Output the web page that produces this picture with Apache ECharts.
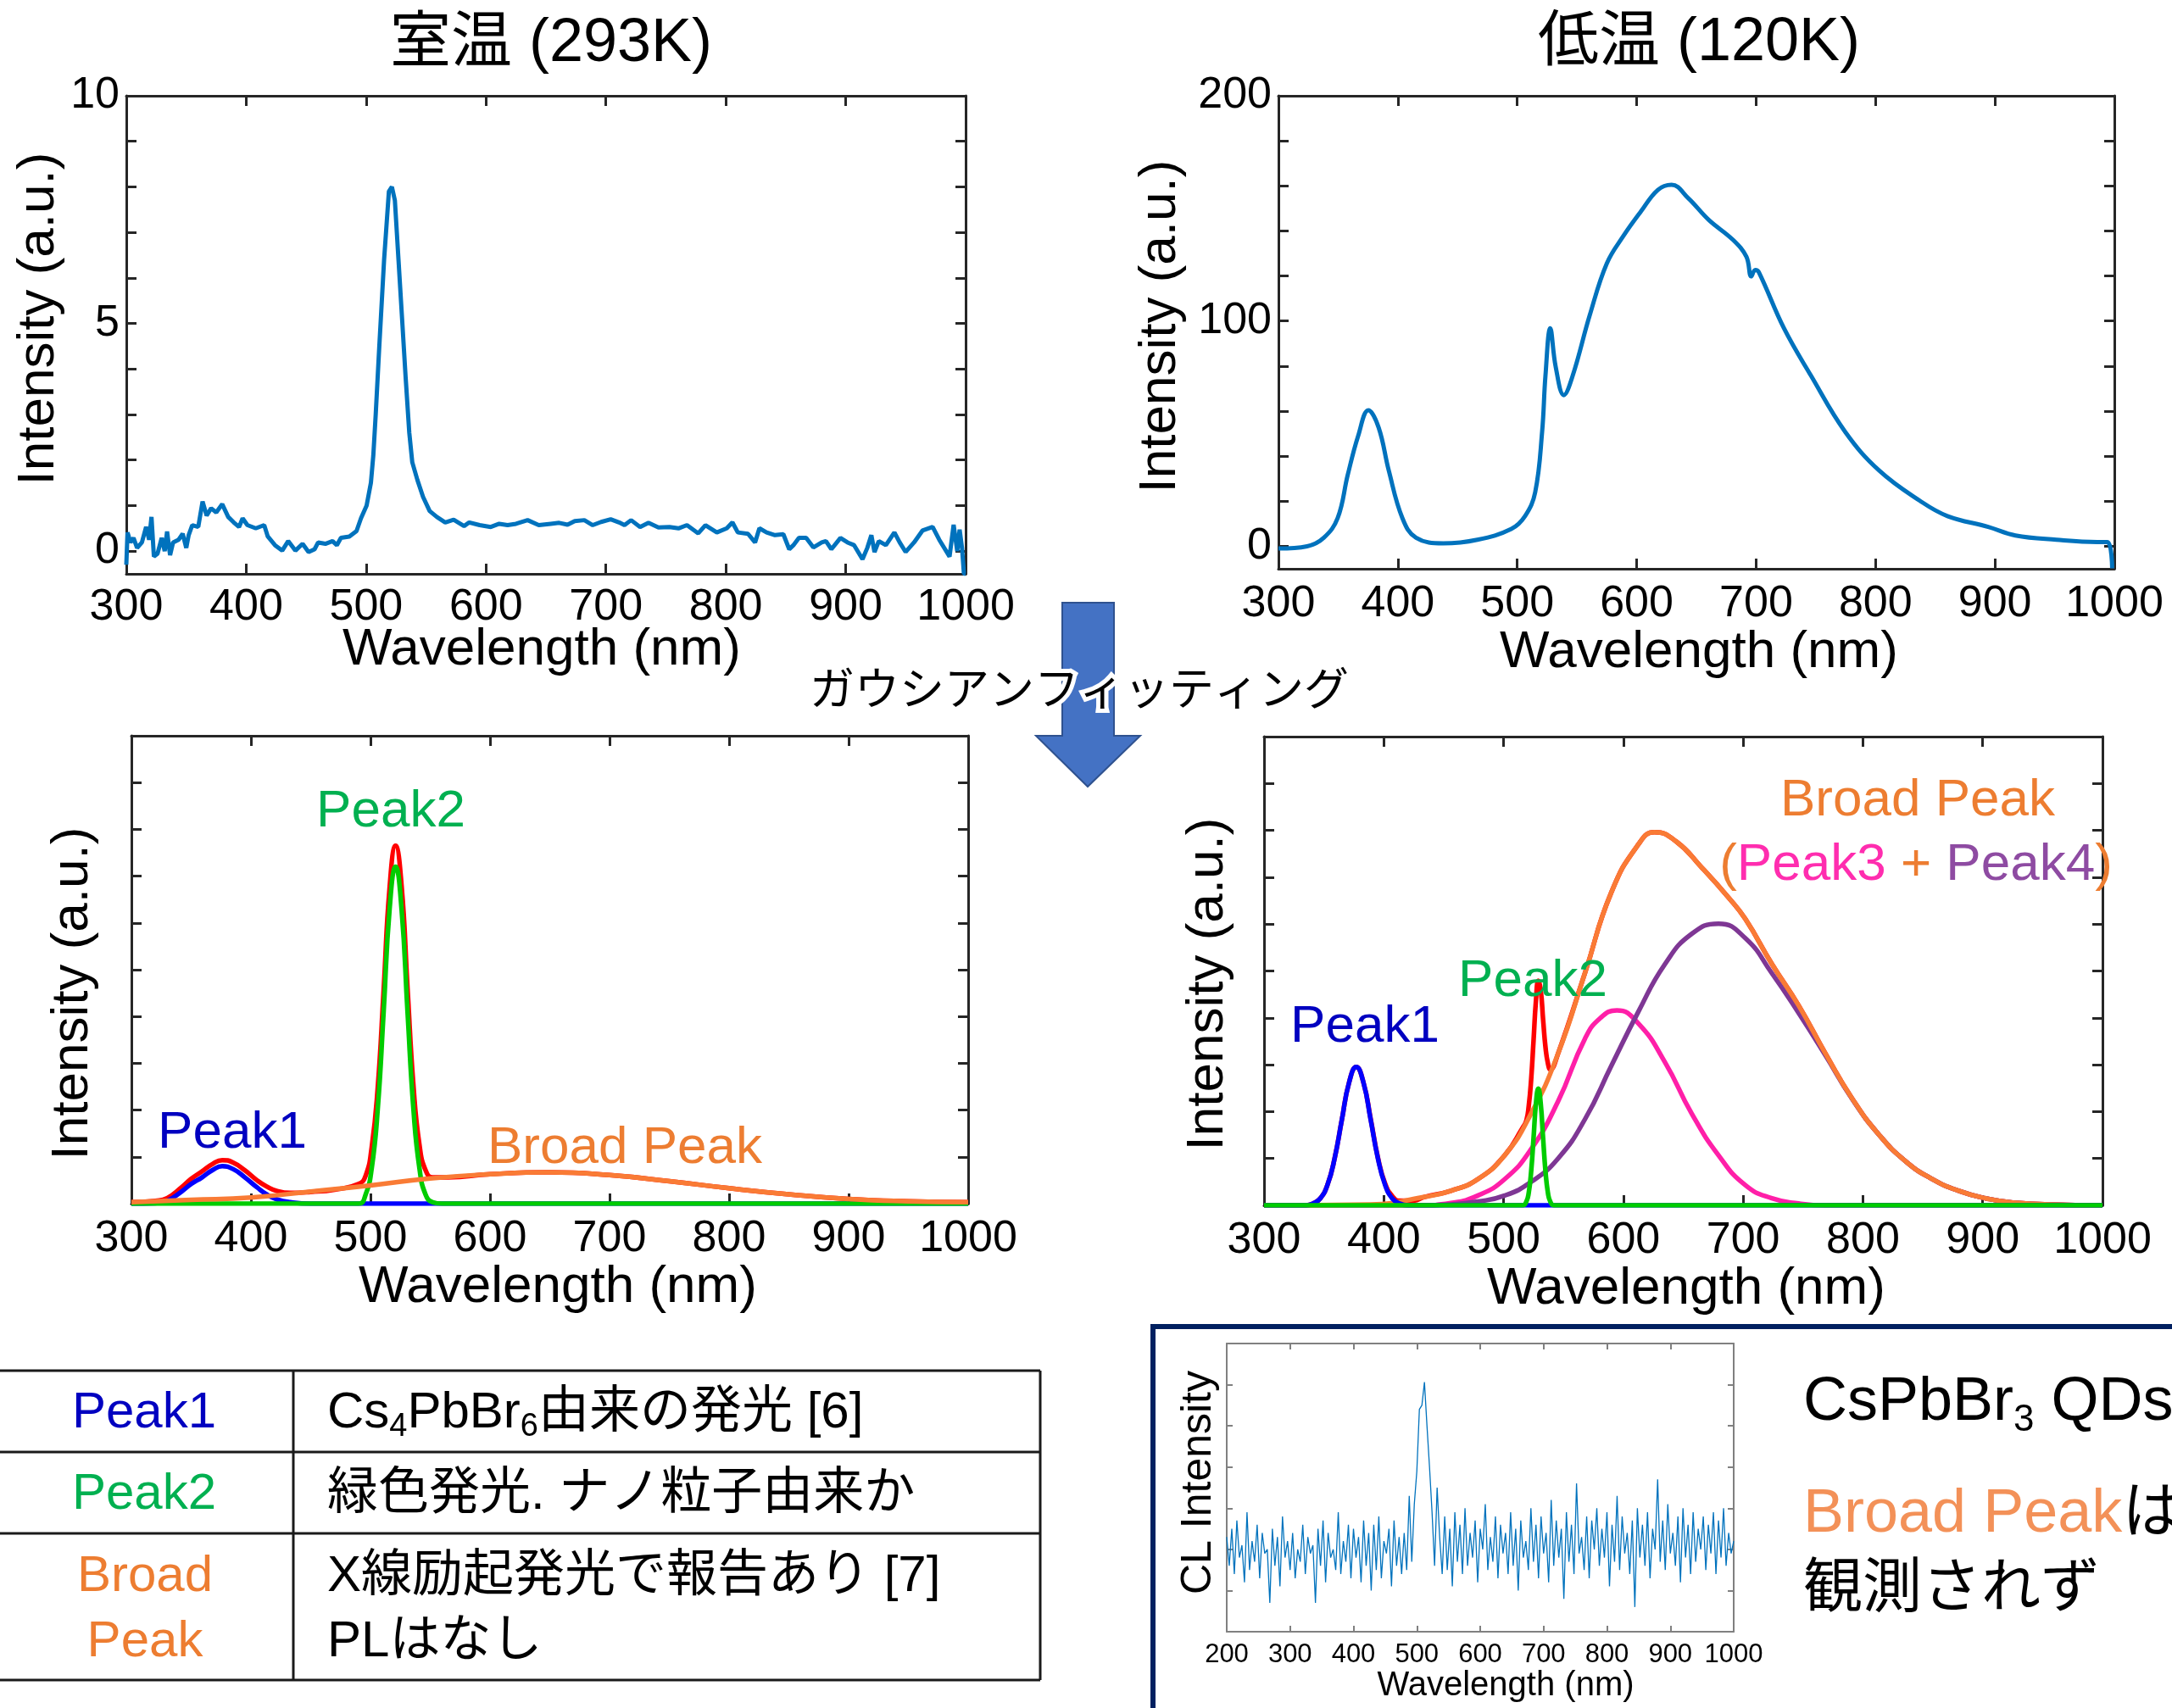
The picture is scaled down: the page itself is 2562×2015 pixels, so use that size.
<!DOCTYPE html>
<html>
<head>
<meta charset="utf-8">
<script src="https://cdn.jsdelivr.net/npm/echarts@6/dist/echarts.min.js"></script>
<style>
  html, body { margin: 0; padding: 0; background: #fff; }
  #main { width: 2562px; height: 2015px; }
</style>
</head>
<body>
<div id="main"></div>
<script>
/* ---------- data (wavelength nm, intensity) ---------- */

// 室温 PL spectrum
var roomTempSpectrum = [[300,-0.3],[301,0.41],[303.5,0.19],[306,0.29],[309,0.07],[313,0.19],[316.5,0.53],[319,0.25],[321,0.75],[323,-0.12],[326,-0.06],[329.5,0.29],[332,0],[334,0.43],[336.5,-0.09],[339,0.19],[343.6,0.25],[347,0.38],[350,0.07],[352,0.35],[355,0.57],[360,0.53],[363.6,1.09],[367,0.78],[370.7,0.94],[375,0.85],[380,1.03],[385,0.75],[389.6,0.63],[394,0.53],[397,0.72],[401,0.57],[408,0.5],[415,0.57],[418,0.32],[424,0.13],[430,0.01],[435,0.22],[441,0.01],[447,0.16],[452,-0.02],[457,0.04],[460,0.19],[466,0.16],[472,0.22],[475.6,0.13],[479,0.29],[486,0.32],[492,0.44],[495.7,0.72],[500.4,1.0],[504,1.5],[506,2.1],[508,3.0],[511,4.5],[515,6.4],[519,7.9],[521.5,8.0],[524,7.7],[527,6.4],[530,5.1],[533,3.8],[536,2.6],[538.5,1.95],[542.8,1.56],[547.5,1.19],[553,0.88],[559,0.75],[566,0.63],[573,0.69],[581.7,0.55],[586,0.63],[594.7,0.57],[604,0.53],[611,0.6],[618,0.57],[625,0.6],[634.7,0.68],[644,0.57],[654,0.6],[661,0.62],[668,0.58],[674,0.66],[682,0.68],[689,0.57],[696,0.64],[704,0.7],[711,0.63],[715.5,0.57],[721,0.68],[728.5,0.53],[735.5,0.62],[743.8,0.52],[753,0.53],[760.5,0.5],[767.6,0.57],[777,0.39],[783,0.57],[792.5,0.41],[800.8,0.5],[805.5,0.63],[810,0.41],[818.5,0.38],[824.4,0.19],[828,0.5],[834,0.41],[841,0.35],[848,0.37],[852.9,0.04],[856.4,0.13],[861,0.29],[867,0.29],[873,0.08],[880,0.19],[883.5,0.22],[888,0.04],[895.6,0.29],[901.5,0.19],[907,0.13],[914,-0.18],[918,0.07],[921.4,0.35],[924,-0.02],[927.6,0.22],[933.5,0.13],[940.6,0.41],[945,0.19],[950,-0.02],[957,0.19],[964,0.45],[972.5,0.53],[978,0.25],[986.6,-0.12],[990,0.58],[993,0],[995,0.47],[997,0.07],[998.6,-0.5],[1000,-0.5]];

// 低温 PL spectrum
var lowTempSpectrum = [[300,-1],[324,0],[338,3.8],[349.6,12.5],[358,31.6],[366.7,48.9],[375.3,60.4],[383.9,52.7],[392.4,33.6],[403.8,12.5],[415.2,3.8],[438,1.3],[466.6,2.9],[495,7.7],[506.5,13.4],[515,24],[520.8,50.8],[523.6,75.7],[527.6,96.8],[532.2,79.6],[539,67.1],[546.4,75.7],[560.7,102.6],[575,125.6],[589.2,138],[603.5,148.6],[617.7,158.2],[629.2,160.5],[643.4,154.4],[660.5,144.8],[680.5,136.1],[691.9,128.5],[695.9,119.8],[699.3,122.7],[702.2,121.8],[723.3,96.8],[746,75.7],[774.6,50.8],[803.1,33.6],[837.4,20.1],[860.2,13.4],[894.4,8.6],[917.2,4.8],[951.5,2.9],[985.7,1.9],[994.2,1.9],[998.2,-9.8]];

// room temperature gaussian fit
var roomFitTotal = [[300,0.03],[320,0.06],[330,0.12],[342,0.35],[350,0.53],[359,0.69],[368,0.85],[376,0.93],[385,0.88],[395,0.71],[405,0.5],[413,0.37],[422,0.27],[433,0.23],[450,0.25],[470,0.3],[490,0.42],[496,0.6],[501,1.2],[506,2.45],[511,4.55],[516,6.75],[521,7.65],[526,6.8],[531,4.6],[536,2.5],[541,1.25],[546,0.72],[552,0.56],[565,0.56],[600,0.63],[650,0.67],[700,0.61],[750,0.48],[800,0.33],[850,0.2],[900,0.1],[950,0.05],[1000,0.03]];
var roomFitPeak1 = [[300,0],[320,0.01],[330,0.06],[342,0.26],[350,0.42],[359,0.56],[368,0.72],[376,0.8],[385,0.74],[395,0.56],[405,0.35],[413,0.2],[422,0.09],[433,0.03],[450,0],[1000,0]];
var roomFitPeak2 = [[300,0],[490,0],[496,0.2],[501,0.75],[506,2.0],[511,4.1],[516,6.3],[521,7.2],[526,6.3],[531,4.1],[536,2.0],[541,0.75],[546,0.2],[552,0.03],[560,0],[1000,0]];
var roomFitBroad = [[300,0.03],[350,0.08],[400,0.13],[450,0.26],[500,0.39],[550,0.54],[600,0.63],[650,0.67],[700,0.61],[750,0.48],[800,0.33],[850,0.2],[900,0.1],[950,0.05],[1000,0.03]];

// low temperature gaussian fit
var lowFitTotal = [[300,0],[335,0],[341,0.04],[347,0.15],[353,0.44],[359,1.01],[365,1.83],[371,2.62],[377,2.95],[383,2.62],[389,1.85],[395,1.03],[401,0.47],[407,0.2],[413,0.1],[425,0.1],[434,0.18],[456,0.31],[478.6,0.56],[501,1.07],[516,1.66],[519,1.81],[521,2.12],[523,2.68],[525,3.51],[527,4.36],[529,4.79],[531,4.59],[533,3.96],[535,3.37],[537,3.03],[539,2.9],[545.5,3.24],[568,4.96],[590,6.68],[612.5,7.7],[626,7.96],[643.7,7.77],[666,7.19],[688,6.56],[701.8,6.11],[724,5.15],[746.4,4.26],[768.7,3.24],[791,2.28],[813,1.52],[835.7,0.94],[858,0.56],[880,0.31],[902.6,0.15],[925,0.06],[969.6,0.01],[1000,0]];
var lowFitPeak1 = [[300,0],[335,0],[341,0.04],[347,0.15],[353,0.44],[359,1.01],[365,1.83],[371,2.62],[377,2.95],[383,2.62],[389,1.83],[395,1.01],[401,0.44],[407,0.15],[413,0.04],[420,0],[1000,0]];
var lowFitPeak2 = [[300,0],[516,0],[519,0.08],[521,0.27],[523,0.72],[525,1.43],[527,2.17],[529,2.49],[531,2.17],[533,1.43],[535,0.72],[537,0.27],[539,0.08],[542,0],[1000,0]];
var lowFitPeak3 = [[300,0],[430,0],[456,0.05],[478.6,0.21],[501,0.56],[523,1.2],[545.5,2.22],[568,3.56],[581,4.0],[594.6,4.16],[612.5,3.88],[634.8,3.05],[657,1.96],[679.4,1.07],[701.8,0.43],[724,0.15],[746.4,0.04],[769,0],[1000,0]];
var lowFitPeak4 = [[300,0],[430,0],[456,0.02],[478.6,0.08],[501,0.21],[523,0.5],[545.5,1.0],[568,1.84],[590,2.98],[612.5,4.13],[634.8,5.15],[657,5.79],[679.4,6.01],[701.8,5.7],[724,4.95],[746.4,4.1],[768.7,3.2],[791,2.27],[813,1.52],[835.7,0.94],[858,0.56],[880,0.31],[902.6,0.15],[925,0.06],[969.6,0.01],[1000,0]];
var lowFitBroad = [[300,0],[389,0.02],[434,0.18],[456,0.31],[478.6,0.56],[501,1.07],[523,1.96],[545.5,3.24],[568,4.96],[590,6.68],[612.5,7.7],[626,7.96],[643.7,7.77],[666,7.19],[688,6.56],[701.8,6.11],[724,5.15],[746.4,4.26],[768.7,3.24],[791,2.28],[813,1.52],[835.7,0.94],[858,0.56],[880,0.31],[902.6,0.15],[925,0.06],[969.6,0.01],[1000,0]];

// CsPbBr3 QDs CL spectrum, one value every 4 nm from 200 nm
var clStart = 200;
var clStep = 4;
var clIntensity = [
  2.3,1.6,2.5,1.4,2.7,1.8,2.1,1.2,2.9,1.5,
  2.2,1.7,2.6,1.3,2.4,1.9,2.0,0.7,2.5,1.6,
  2.3,1.1,2.8,1.8,2.2,1.5,2.4,1.3,2.0,1.7,
  2.6,1.4,2.3,1.9,2.1,0.7,2.5,1.6,2.7,1.2,
  2.4,1.8,2.0,1.5,2.9,1.4,2.2,1.7,2.6,1.3,
  2.5,1.8,2.3,1.2,2.7,1.6,2.4,1.0,2.6,1.5,
  2.8,1.3,2.2,1.9,2.5,1.1,2.7,1.6,2.3,1.4,
  2.4,1.5,3.3,1.7,3.1,3.9,5.4,5.5,6.06,5.0,4.0,2.9,1.6,3.5,2.3,1.4,
  2.8,1.5,2.5,1.1,2.9,1.7,2.6,1.4,3.0,1.6,
  2.4,1.8,2.7,1.2,2.5,2.0,3.1,1.5,2.3,1.7,
  2.8,1.3,2.6,1.9,2.4,1.4,2.9,1.6,2.5,1.0,
  2.7,1.8,2.2,1.5,3.0,1.7,2.6,1.3,2.8,1.9,
  2.4,1.2,3.2,1.6,2.7,1.8,2.5,0.8,2.9,1.7,
  2.6,1.4,3.6,1.9,2.3,1.5,2.8,1.3,2.7,2.0,
  3.0,1.6,2.5,1.8,2.9,1.1,2.6,1.7,3.3,1.5,
  2.8,1.9,2.4,1.4,2.7,0.6,3.0,1.8,2.6,1.6,
  2.9,1.3,2.5,2.0,3.7,1.7,2.7,1.5,3.1,1.9,
  2.4,1.6,2.8,1.2,3.0,1.8,2.6,1.4,2.9,1.7,
  2.5,2.0,2.8,1.5,2.6,1.9,2.9,1.4,2.7,1.8,
  3.0,1.6,2.4,1.9,2.2
];

// tick values
var roomYTicks = [0,1,2,3,4,5,6,7,8,9,10];
var roomYLabels = [0,5,10];
var lowYTicks = [0,20,40,60,80,100,120,140,160,180,200];
var lowYLabels = [0,100,200];
var fitYTicks = [1,2,3,4,5,6,7,8,9];
var clYTicks = [1,2,3,4,5,6];

/* ---------- helpers ---------- */

var FONT = "'Liberation Sans', Arial, 'Noto Sans CJK JP', sans-serif";
var xAxes = [];
var yAxes = [];

function plain(v) { return String(v); }

function extend(a, b) { for (var k in b) a[k] = b[k]; return a; }

function addBox(gridIndex, x, y, look) {
    var line = { show: true, onZero: false, lineStyle: { color: look.color, width: look.width } };
    var tick = { show: true, inside: true, length: look.tick, lineStyle: { color: look.color, width: look.width } };
    var xLabel = { show: true, fontSize: x.labelSize, color: '#000', fontFamily: FONT, margin: x.labelMargin, formatter: plain };
    xAxes.push({ type: 'value', gridIndex: gridIndex, position: 'bottom', min: x.min, max: x.max, interval: x.interval,
        axisLine: line, axisTick: tick, axisLabel: xLabel, splitLine: { show: false } });
    xAxes.push({ type: 'value', gridIndex: gridIndex, position: 'top', min: x.min, max: x.max, interval: x.interval,
        axisLine: line, axisTick: tick, axisLabel: { show: false }, splitLine: { show: false } });

    var yTick = extend({ customValues: y.ticks }, tick);
    var yLabel = y.labels
        ? { show: true, customValues: y.labels, fontSize: y.labelSize, color: '#000', fontFamily: FONT, margin: 8, formatter: plain }
        : { show: false };
    yAxes.push({ type: 'value', gridIndex: gridIndex, position: 'left', min: y.min, max: y.max,
        axisLine: line, axisTick: yTick, axisLabel: yLabel, splitLine: { show: false } });
    yAxes.push({ type: 'value', gridIndex: gridIndex, position: 'right', min: y.min, max: y.max,
        axisLine: line, axisTick: yTick, axisLabel: { show: false }, splitLine: { show: false } });
}

function curve(gridIndex, data, color, width, smooth) {
    return {
        type: 'line', xAxisIndex: 2 * gridIndex, yAxisIndex: 2 * gridIndex,
        data: data, showSymbol: false, symbol: 'none', smooth: smooth,
        lineStyle: { color: color, width: width }, silent: true
    };
}

function label(x, y, text, size, color, extra) {
    var el = { type: 'text', x: x, y: y, z: 100,
        style: { text: text, fontSize: size, fontFamily: FONT, fill: color, align: 'center', verticalAlign: 'middle' } };
    if (extra) {
        if (extra.rotation) el.rotation = extra.rotation;
        if (extra.align) el.style.align = extra.align;
        if (extra.rich) el.style.rich = extra.rich;
        if (extra.stroke) { el.style.stroke = extra.stroke; el.style.lineWidth = extra.lineWidth; }
    }
    return el;
}

function hline(x1, x2, y) {
    return { type: 'line', shape: { x1: x1, y1: y, x2: x2, y2: y }, style: { stroke: '#1a1a1a', lineWidth: 3 } };
}
function vline(x, y1, y2) {
    return { type: 'line', shape: { x1: x, y1: y1, x2: x, y2: y2 }, style: { stroke: '#1a1a1a', lineWidth: 3 } };
}

/* ---------- axes ---------- */

var boxLook = { color: '#262626', width: 3, tick: 12 };
addBox(0, { min: 300, max: 1000, interval: 100, labelSize: 52, labelMargin: 14 },
          { min: -0.5, max: 10, ticks: roomYTicks, labels: roomYLabels, labelSize: 52 }, boxLook);
addBox(1, { min: 300, max: 1000, interval: 100, labelSize: 52, labelMargin: 16 },
          { min: -10, max: 200, ticks: lowYTicks, labels: lowYLabels, labelSize: 52 }, boxLook);
addBox(2, { min: 300, max: 1000, interval: 100, labelSize: 52, labelMargin: 16 },
          { min: 0, max: 10, ticks: fitYTicks }, boxLook);
addBox(3, { min: 300, max: 1000, interval: 100, labelSize: 52, labelMargin: 16 },
          { min: 0, max: 10, ticks: fitYTicks }, boxLook);
addBox(4, { min: 200, max: 1000, interval: 100, labelSize: 31, labelMargin: 12 },
          { min: 0, max: 7, ticks: clYTicks }, { color: '#808080', width: 2, tick: 7 });

var clData = clIntensity.map(function (v, i) { return [clStart + clStep * i, v]; });

/* ---------- colours ---------- */

var C_SPEC = '#0072BD';
var C_RED = '#FF0000', C_BLUE = '#0000FF', C_GREEN = '#00CC00', C_ORANGE = '#F97B35';
var C_MAGENTA = '#FF1FA8', C_PURPLE = '#7E3794';
var T_BLUE = '#0000C0', T_GREEN = '#00B050', T_ORANGE = '#ED7D31';

/* ---------- graphic: titles, labels, arrow, table ---------- */

var ROT = Math.PI / 2;
var graphics = [
    // titles
    label(650, 52, '室温 (293K)', 72, '#000'),
    label(2004, 51, '低温 (120K)', 72, '#000'),

    // axis titles
    label(46, 376, 'Intensity (a.u.)', 62, '#000', { rotation: ROT }),
    label(1369, 385, 'Intensity (a.u.)', 62, '#000', { rotation: ROT }),
    label(86, 1172, 'Intensity (a.u.)', 62, '#000', { rotation: ROT }),
    label(1425, 1161, 'Intensity (a.u.)', 62, '#000', { rotation: ROT }),
    label(1414, 1749, 'CL Intensity', 50, '#000', { rotation: ROT }),
    label(639, 767, 'Wavelength (nm)', 62, '#000'),
    label(2004, 770, 'Wavelength (nm)', 62, '#000'),
    label(658, 1519, 'Wavelength (nm)', 62, '#000'),
    label(1989, 1521, 'Wavelength (nm)', 62, '#000'),
    label(1776, 1989, 'Wavelength (nm)', 40, '#000'),

    // peak annotations
    label(461, 958, 'Peak2', 62, T_GREEN),
    label(274, 1337, 'Peak1', 62, T_BLUE),
    label(737, 1355, 'Broad Peak', 62, T_ORANGE),
    label(2262, 945, 'Broad Peak', 62, T_ORANGE),
    label(2260, 1021, '{o|(}{m|Peak3}{o| + }{p|Peak4}{o|)}', 62, T_ORANGE, {
        rich: {
            o: { fill: T_ORANGE, fontSize: 62, fontFamily: FONT },
            m: { fill: '#FF2DAF', fontSize: 62, fontFamily: FONT },
            p: { fill: '#8E4BA2', fontSize: 62, fontFamily: FONT }
        }
    }),
    label(1808, 1158, 'Peak2', 62, T_GREEN),
    label(1610, 1212, 'Peak1', 62, T_BLUE),

    // arrow
    {
        type: 'polygon', z: 50,
        shape: { points: [[1253, 711], [1314, 711], [1314, 868], [1345, 868], [1283, 928], [1222, 868], [1253, 868]] },
        style: { fill: '#4472C4', stroke: '#2F528F', lineWidth: 2 }
    },
    label(1273, 817, 'ガウシアンフィッティング', 53, '#000', { stroke: '#ffffff', lineWidth: 10 }),

    // table
    hline(0, 1227, 1617), hline(0, 1227, 1713), hline(0, 1227, 1809), hline(0, 1227, 1982),
    vline(346, 1617, 1982), vline(1227, 1617, 1982),
    label(170, 1667, 'Peak1', 60, T_BLUE),
    label(170, 1763, 'Peak2', 60, T_GREEN),
    label(171, 1860, 'Broad', 60, T_ORANGE),
    label(171, 1937, 'Peak', 60, T_ORANGE),
    label(386, 1667, '{n|Cs}{s|4}{n|PbBr}{s|6}{n|由来の発光 [6]}', 60, '#000', {
        align: 'left',
        rich: {
            n: { fontSize: 60, fontFamily: FONT, fill: '#000', lineHeight: 72 },
            s: { fontSize: 38, fontFamily: FONT, fill: '#000', lineHeight: 26, verticalAlign: 'bottom' }
        }
    }),
    label(386, 1763, '緑色発光. ナノ粒子由来か', 60, '#000', { align: 'left' }),
    label(386, 1860, 'X線励起発光で報告あり [7]', 60, '#000', { align: 'left' }),
    label(386, 1937, 'PLはなし', 60, '#000', { align: 'left' }),

    // CL box
    {
        type: 'rect', z: 1,
        shape: { x: 1360, y: 1565, width: 1400, height: 600 },
        style: { fill: 'none', stroke: '#002060', lineWidth: 6 }
    },
    label(2127, 1655, '{n|CsPbBr}{s|3}{n| QDs}', 72, '#000', {
        align: 'left',
        rich: {
            n: { fontSize: 72, fontFamily: FONT, fill: '#000', lineHeight: 86 },
            s: { fontSize: 44, fontFamily: FONT, fill: '#000', lineHeight: 30, verticalAlign: 'bottom' }
        }
    }),
    label(2127, 1787, '{o|Broad Peak}{k|は}', 72, '#000', {
        align: 'left',
        rich: {
            o: { fontSize: 72, fontFamily: FONT, fill: '#F39158' },
            k: { fontSize: 72, fontFamily: FONT, fill: '#000' }
        }
    }),
    label(2127, 1877, '観測されず', 70, '#000', { align: 'left' })
];

/* ---------- chart ---------- */

var chart = echarts.init(document.getElementById('main'), null, { renderer: 'canvas' });

var option = {
    animation: false,
    backgroundColor: '#fff',
    grid: [
        { left: 149, top: 113, width: 990, height: 564 },
        { left: 1508, top: 113, width: 986, height: 558 },
        { left: 155, top: 868, width: 987, height: 552 },
        { left: 1491, top: 869, width: 989, height: 553 },
        { left: 1447, top: 1585, width: 598, height: 340 }
    ],
    xAxis: xAxes,
    yAxis: yAxes,
    series: [
        curve(0, roomTempSpectrum, C_SPEC, 5, false),
        curve(1, lowTempSpectrum, C_SPEC, 5, 0.4),

        curve(2, roomFitTotal, C_RED, 5.5, 0.5),
        curve(2, roomFitPeak1, C_BLUE, 5.5, 0.5),
        curve(2, roomFitPeak2, C_GREEN, 5.5, 0.5),
        curve(2, roomFitBroad, C_ORANGE, 5.5, 0.5),

        curve(3, lowFitTotal, C_RED, 5.5, 0.5),
        curve(3, lowFitPeak3, C_MAGENTA, 5.5, 0.5),
        curve(3, lowFitPeak4, C_PURPLE, 5.5, 0.5),
        curve(3, lowFitBroad, C_ORANGE, 5.5, 0.5),
        curve(3, lowFitPeak1, C_BLUE, 5.5, 0.5),
        curve(3, lowFitPeak2, C_GREEN, 5.5, 0.5),

        curve(4, clData, C_SPEC, 1.3, false)
    ],
    graphic: graphics
};

chart.setOption(option);
</script>
</body>
</html>
